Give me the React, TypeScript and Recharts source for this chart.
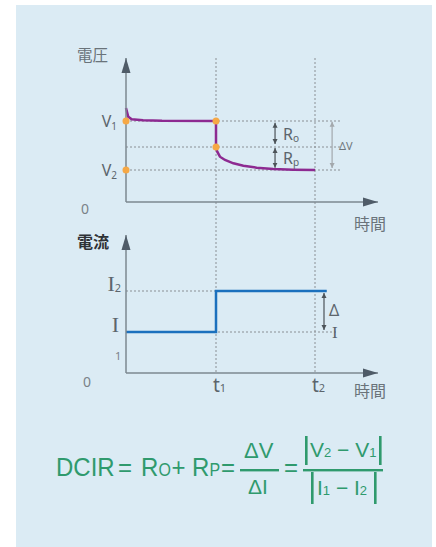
import React from 'react';
import { LineChart, Line, XAxis, YAxis, ReferenceLine, ReferenceDot } from 'recharts';

// voltage response (time units, volts in arbitrary units)
const voltageHead = [
  { t: 0, v: 9.4 }, { t: 0.25, v: 8.53 }, { t: 0.63, v: 8.27 }, { t: 1.9, v: 8.17 },
  { t: 4, v: 8.12 }, { t: 10, v: 8.1 },
];
const voltageTail = [
  { t: 10, v: 5.5 }, { t: 10.14, v: 5.03 }, { t: 10.44, v: 4.53 }, { t: 11, v: 4.2 },
  { t: 11.93, v: 3.87 }, { t: 13.04, v: 3.63 }, { t: 14.52, v: 3.43 }, { t: 16.37, v: 3.3 },
  { t: 18.6, v: 3.23 }, { t: 21, v: 3.2 },
];
const voltageCurve = [...voltageHead, ...voltageTail];

const currentStep = [
  { t: 0, i: 4.1 }, { t: 10, i: 4.1 }, { t: 10, i: 8.2 }, { t: 22.3, i: 8.2 },
];

const timeTicks = [10, 21];
const timeTickSubs = ['1', '2'];
const voltTicks = [8.1, 3.2];
const voltTickSubs = ['1', '2'];
const voltMid = 5.5;
const currentTicks = [8.2, 4.1];
const currentTickSubs = ['2', ''];
const keyPoints = [
  { t: 0, v: 8.1 }, { t: 10, v: 8.1 }, { t: 10, v: 5.5 }, { t: 0, v: 3.2 },
];

const X_DOMAIN: [number, number] = [0, 28];
const GUIDE_END = 24;
const R_ARROW_T = 16.56;
const DV_ARROW_T = 22.9;
const DI_ARROW_T = 22;

const SANS = '"Noto Sans", "Noto Sans CJK JP", sans-serif';
const SERIF = '"Liberation Serif", "DejaVu Serif", serif';
const CJK = '"Noto Sans CJK JP", sans-serif';
const AXIS = '#7d8891';
const DOT = '#8a8f94';
const LABEL = '#5c656c';
const GREEN = '#2f9a6d';

const axisLine = (marker: 'start' | 'end') => ({
  stroke: AXIS,
  strokeWidth: 1.5,
  ...(marker === 'end' ? { markerEnd: 'url(#axArrow)' } : { markerStart: 'url(#axArrow)' }),
});

const VoltTick = (p: any) => {
  const idx = voltTicks.indexOf(p.payload.value);
  return (
    <text x={p.x - 9} y={p.y + 6} textAnchor="end" fontFamily={SANS} fontSize={16} fill={LABEL}>
      V<tspan fontSize={10} dy={3}>{voltTickSubs[idx]}</tspan>
    </text>
  );
};

const CurrentTick = (p: any) => {
  const idx = currentTicks.indexOf(p.payload.value);
  const sub = currentTickSubs[idx];
  return (
    <text x={sub ? p.x - 5 : p.x - 7} y={p.y} textAnchor="end" fontFamily={SERIF} fontSize={22} fill={LABEL}>
      I{sub ? <tspan fontFamily={SANS} fontSize={11} dy={1}>{sub}</tspan> : null}
    </text>
  );
};

const TimeTick = (p: any) => {
  const idx = timeTicks.indexOf(p.payload.value);
  return (
    <text x={p.x - 3} y={p.y + 19} fontFamily={SANS} fontSize={19} fill={LABEL}>
      t<tspan fontSize={11} dy={0}>{timeTickSubs[idx]}</tspan>
    </text>
  );
};

const arrowShape = (marker: string, color: string) => (p: any) => (
  <line x1={p.x1} y1={p.y1} x2={p.x2} y2={p.y2} stroke={color} strokeWidth={1.2}
    markerStart={`url(#${marker})`} markerEnd={`url(#${marker})`} />
);

const RLabel = (sub: string) => (p: any) => (
  <text x={p.cx + 8} y={p.cy + 5.5} fontFamily={SANS} fontSize={16} fill={LABEL}>
    R<tspan fontSize={10} dy={2}>{sub}</tspan>
  </text>
);

const DVLabel = (p: any) => (
  <text x={p.cx + 7} y={p.cy + 4.5} fontFamily={SANS} fontSize={11} fill="#6e767c">ΔV</text>
);

const DILabel = (p: any) => (
  <g>
    <text x={p.cx + 5} y={p.cy + 4.5} fontFamily={SANS} fontSize={16} fill={LABEL}>Δ</text>
    <text x={p.cx + 8} y={p.cy + 26.5} fontFamily={SERIF} fontSize={17} fill={LABEL}>I</text>
  </g>
);

function VoltageChart() {
  return (
    <LineChart width={436} height={400} data={voltageCurve} margin={{ top: 58, right: 58, bottom: 178, left: 86 }}>
      <XAxis type="number" dataKey="t" domain={X_DOMAIN} ticks={[]} tick={false} tickLine={false} height={20} axisLine={axisLine('end')} />
      <YAxis type="number" domain={[0, 14.4]} ticks={voltTicks} width={40} tickLine={false} tickSize={0} tickMargin={0}
        tick={<VoltTick />} axisLine={axisLine('start')} />
      {timeTicks.map(t => (
        <ReferenceLine key={t} segment={[{ x: t, y: 14.4 }, { x: t, y: -17.2 }]} ifOverflow="visible"
          stroke={DOT} strokeDasharray="2 2" />
      ))}
      {[...voltTicks, voltMid].map(v => (
        <ReferenceLine key={v} segment={[{ x: 0, y: v }, { x: GUIDE_END, y: v }]} stroke={DOT} strokeDasharray="2 2" />
      ))}
      <Line dataKey="v" type="linear" stroke="#8d2a91" strokeWidth={2.5} dot={false} isAnimationActive={false} />
      {keyPoints.map((k, i) => (
        <ReferenceDot key={i} x={k.t} y={k.v} r={3.5} fill="#f6a845" stroke="none" ifOverflow="visible" />
      ))}
      <ReferenceLine segment={[{ x: R_ARROW_T, y: 7.93 }, { x: R_ARROW_T, y: 5.8 }]} shape={arrowShape('tinyArrow', '#4c5358')} />
      <ReferenceLine segment={[{ x: R_ARROW_T, y: 5.4 }, { x: R_ARROW_T, y: 3.43 }]} shape={arrowShape('tinyArrow', '#4c5358')} />
      <ReferenceLine segment={[{ x: DV_ARROW_T, y: 8.02 }, { x: DV_ARROW_T, y: 3.4 }]} shape={arrowShape('grayArrow', '#a3a8ac')} />
      <ReferenceDot x={R_ARROW_T} y={(voltTicks[0] + voltMid) / 2} r={0} shape={RLabel('o')} />
      <ReferenceDot x={R_ARROW_T} y={(voltMid + voltTicks[1]) / 2} r={0} shape={RLabel('p')} />
      <ReferenceDot x={DV_ARROW_T} y={(voltTicks[0] + voltTicks[1]) / 2} r={0} shape={DVLabel} />
    </LineChart>
  );
}

function CurrentChart() {
  return (
    <LineChart width={436} height={420} data={currentStep} margin={{ top: 235, right: 58, bottom: 27, left: 86 }}>
      <XAxis type="number" dataKey="t" domain={X_DOMAIN} ticks={timeTicks} tickLine={false} tickSize={0} tickMargin={0}
        height={20} tick={<TimeTick />} axisLine={axisLine('end')} />
      <YAxis type="number" domain={[0, 13.8]} ticks={currentTicks} width={40} tickLine={false} tickSize={0} tickMargin={0}
        tick={<CurrentTick />} axisLine={axisLine('start')} />
      <ReferenceLine segment={[{ x: 0, y: currentTicks[0] }, { x: 22.3, y: currentTicks[0] }]} stroke={DOT} strokeDasharray="2 2" />
      <ReferenceLine segment={[{ x: 0, y: currentTicks[1] }, { x: 23.4, y: currentTicks[1] }]} stroke={DOT} strokeDasharray="2 2" />
      <Line dataKey="i" type="linear" stroke="#1b70bd" strokeWidth={2.5} dot={false} isAnimationActive={false} />
      <ReferenceLine segment={[{ x: DI_ARROW_T, y: 8.0 }, { x: DI_ARROW_T, y: 4.3 }]} shape={arrowShape('tinyArrow', '#4c5358')} />
      <ReferenceDot x={DI_ARROW_T} y={(currentTicks[0] + currentTicks[1]) / 2} r={0} shape={DILabel} />
    </LineChart>
  );
}

function Formula() {
  const t = (x: number, y: number, fs: number, body: React.ReactNode) => (
    <text x={x} y={y} fontSize={fs}>{body}</text>
  );
  return (
    <g fill={GREEN} fontFamily='"Liberation Sans", Arial, sans-serif'>
      {/* main line, stretched a little vertically to mimic the narrow face */}
      <g transform="translate(0,476) scale(1,1.09) translate(0,-476)">
        {t(56, 476, 24, 'DCIR')}
        {t(118, 476, 24, '=')}
        {t(141, 476, 24, 'R')}
        {t(158.5, 476, 16, 'O')}
        {t(171.5, 476, 24, '+')}
        {t(192, 476, 24, 'R')}
        {t(209.5, 476, 16, 'P')}
        {t(221, 476, 24, '=')}
      </g>
      {t(244, 458, 22, 'ΔV')}
      <rect x={240} y={469} width={39} height={2.4} />
      {t(248, 494, 21, 'ΔI')}
      <g transform="translate(0,476) scale(1,1.09) translate(0,-476)">
        {t(284, 476, 24, '=')}
      </g>
      <rect x={303} y={469} width={80} height={2.4} />
      <rect x={305} y={436} width={2.6} height={29} />
      {t(310, 457, 21, <>V<tspan fontSize={13}>2</tspan> − V<tspan fontSize={13}>1</tspan></>)}
      <rect x={379} y={436} width={2.6} height={29} />
      <rect x={311} y={472} width={2.6} height={32} />
      {t(317, 495, 21, <>I<tspan fontSize={13}>1</tspan> − I<tspan fontSize={13}>2</tspan></>)}
      <rect x={374} y={472} width={2.6} height={32} />
    </g>
  );
}

export default function App() {
  return (
    <div style={{ position: 'absolute', left: 0, top: 0, width: 436, height: 547, background: '#fff', overflow: 'hidden' }}>
      <div style={{ position: 'absolute', left: 16, top: 5, width: 416, height: 542, background: '#dbebf4' }} />
      <div style={{ position: 'absolute', left: 0, top: 0 }}><VoltageChart /></div>
      <div style={{ position: 'absolute', left: 0, top: 0 }}><CurrentChart /></div>
      <svg width={436} height={547} style={{ position: 'absolute', left: 0, top: 0, pointerEvents: 'none' }}>
        <defs>
          <marker id="axArrow" markerUnits="userSpaceOnUse" markerWidth={16} markerHeight={10} refX={15} refY={5} orient="auto-start-reverse">
            <path d="M0,0.5 L15,5 L0,9.5 Z" fill="#4f5c68" />
          </marker>
          <marker id="tinyArrow" markerUnits="userSpaceOnUse" markerWidth={6} markerHeight={6} refX={5} refY={3} orient="auto-start-reverse">
            <path d="M0,0.5 L5,3 L0,5.5 Z" fill="#4c5358" />
          </marker>
          <marker id="grayArrow" markerUnits="userSpaceOnUse" markerWidth={6} markerHeight={6} refX={5} refY={3} orient="auto-start-reverse">
            <path d="M0,0.5 L5,3 L0,5.5 Z" fill="#a3a8ac" />
          </marker>
        </defs>
        <g fontFamily={CJK} fill="#6a737a">
          <text x={77} y={61} fontSize={15.5}>電圧</text>
          <text x={354} y={229.5} fontSize={16}>時間</text>
          <text x={77} y={248} fontSize={16} fontWeight={700} fill="#2e3236">電流</text>
          <text x={354} y={397} fontSize={16}>時間</text>
        </g>
        <g fontFamily={SANS} fill="#7a8288">
          <text x={81} y={214} fontSize={14}>0</text>
          <text x={83} y={387} fontSize={14}>0</text>
          <text x={115} y={360} fontSize={11}>1</text>
        </g>
        <Formula />
      </svg>
    </div>
  );
}
